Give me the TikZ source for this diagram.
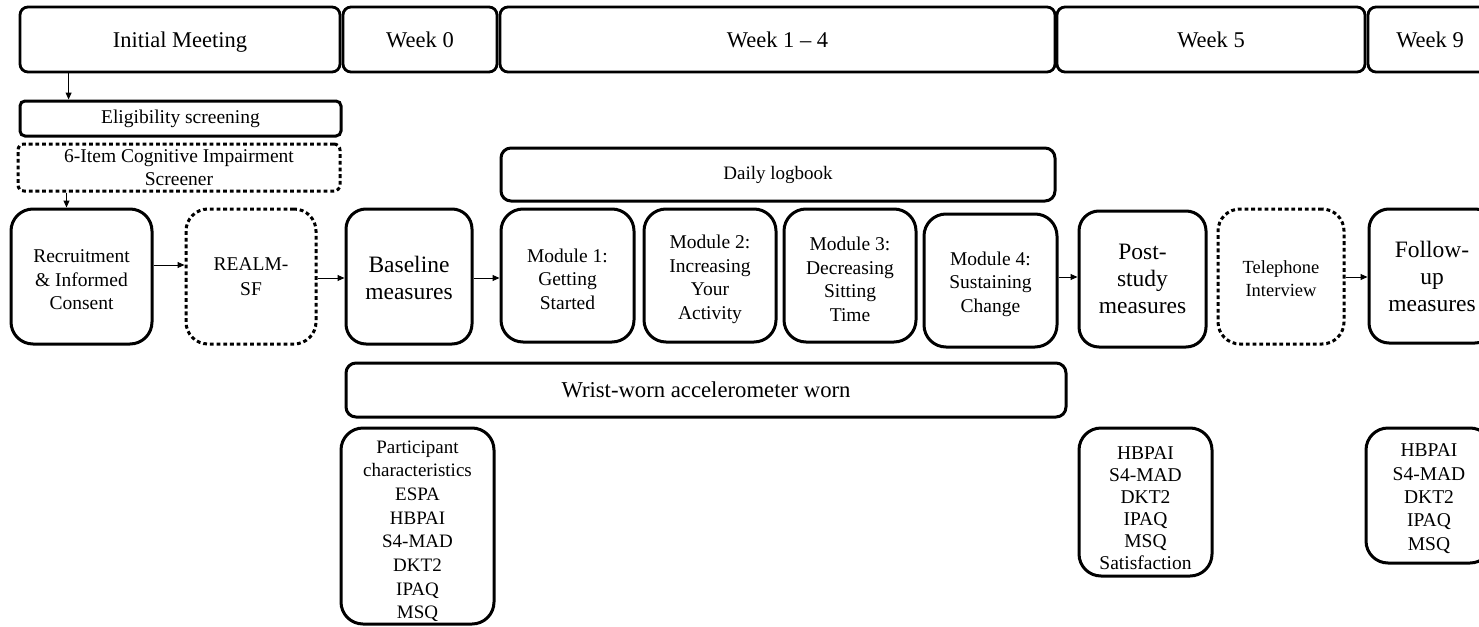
\documentclass[tikz,border=0pt]{standalone}
\usepackage{fontspec}
\setmainfont{Liberation Serif}
\usetikzlibrary{arrows.meta}
\newcommand{\tpush}[1]{\rule{0pt}{#1}}
\begin{document}
\begin{tikzpicture}[x=1pt,y=-1pt,
  hdr/.style={draw, line width=2.8pt, rounded corners=8pt, minimum height=65pt, inner sep=0pt,
    text height=20pt, text depth=4pt, font=\fontsize{22.5}{27}\selectfont},
  rbox/.style={draw, line width=3pt, rounded corners=20pt, align=center, inner sep=0pt,
    font=\fontsize{19.5}{23.5}\selectfont},
  dbox/.style={rbox, dash pattern=on 3.8pt off 2.9pt},
  bigtxt/.style={font=\fontsize{23.5}{27}\selectfont},
  arr/.style={-{Triangle[length=7pt,width=6pt]}, line width=1pt}
]
\useasboundingbox (0,0) rectangle (1479,626);
\clip (0,0) rectangle (1479,626);
\fill[white] (0,0) rectangle (1479,626);

% header row
\node[hdr, minimum width=320pt] (hIM) at (180,39.5) {Initial Meeting};
\node[hdr, minimum width=154pt] (hW0) at (420,39.5) {Week 0};
\node[hdr, minimum width=555pt] (hW14) at (777.5,39.5) {Week 1 -- 4};
\node[hdr, minimum width=308pt] (hW5) at (1211,39.5) {Week 5};
\node[hdr, minimum width=124pt] (hW9) at (1430,39.5) {Week 9};

% screening
\node[rbox, rounded corners=5pt, minimum width=321pt, minimum height=35pt] (elig) at (180.5,118.5) {Eligibility screening};
\node[dbox, rounded corners=6pt, minimum width=322pt, minimum height=47pt] (cog) at (179,167.5) {6-Item Cognitive Impairment\\Screener};

% main row
\node[rbox, rounded corners=22pt, minimum width=141pt, minimum height=135pt] (rec) at (81.5,276.5) {\tpush{19.5pt}Recruitment\\\& Informed\\Consent};
\node[dbox, rounded corners=22pt, minimum width=130pt, minimum height=135pt, font=\fontsize{19.5}{25}\selectfont] (realm) at (251,276.5) {REALM-\\SF};
\node[rbox, bigtxt, rounded corners=20pt, minimum width=126pt, minimum height=135pt] (base) at (409,276.5) {\tpush{19pt}Baseline\\measures};

\node[rbox, rounded corners=10pt, minimum width=554pt, minimum height=53pt, font=\fontsize{19}{23}\selectfont] (daily) at (778,174.5) {Daily logbook};

\node[rbox, rounded corners=22pt, minimum width=133pt, minimum height=133pt] (m1) at (567.5,275.5) {\tpush{21pt}Module 1:\\Getting\\Started};
\node[rbox, rounded corners=22pt, minimum width=132pt, minimum height=133pt] (m2) at (710,275.5) {\tpush{21pt}Module 2:\\Increasing\\Your\\Activity};
\node[rbox, rounded corners=22pt, minimum width=132pt, minimum height=133pt] (m3) at (850,275.5) {\tpush{21pt}Module 3:\\Decreasing\\Sitting\\Time};
\node[rbox, rounded corners=22pt, minimum width=133pt, minimum height=133pt] (m4) at (990.5,280.5) {\tpush{21pt}Module 4:\\Sustaining\\Change};

\node[rbox, bigtxt, rounded corners=20pt, minimum width=127pt, minimum height=136pt] (post) at (1142.5,279) {Post-\\study\\measures};
\node[dbox, rounded corners=22pt, minimum width=126pt, minimum height=135pt, font=\fontsize{18.5}{23}\selectfont] (tel) at (1281,276.5) {\tpush{17pt}Telephone\\Interview};
\node[rbox, bigtxt, rounded corners=20pt, minimum width=126pt, minimum height=134pt] (follow) at (1432,276) {Follow-\\up\\measures};

% accelerometer
\node[rbox, rounded corners=10pt, minimum width=720pt, minimum height=54pt, font=\fontsize{22.7}{27}\selectfont] (wrist) at (706,390) {Wrist-worn accelerometer worn};

% measure lists
\node[rbox, rounded corners=22pt, minimum width=153pt, minimum height=196pt, font=\fontsize{19}{23.7}\selectfont] (part) at (417.5,526) {\tpush{23pt}Participant\\characteristics\\ESPA\\HBPAI\\S4-MAD\\DKT2\\IPAQ\\MSQ};
\node[rbox, rounded corners=22pt, minimum width=133pt, minimum height=148pt, font=\fontsize{19.5}{22}\selectfont] (postlist) at (1145.5,502) {\tpush{25pt}HBPAI\\S4-MAD\\DKT2\\IPAQ\\MSQ\\Satisfaction};
\node[rbox, rounded corners=22pt, minimum width=126pt, minimum height=135pt, font=\fontsize{19.5}{23.3}\selectfont] (follist) at (1429,495.5) {\tpush{19pt}HBPAI\\S4-MAD\\DKT2\\IPAQ\\MSQ};

% arrows
\draw[arr] ([xshift=50pt]hIM.south west) -- ([xshift=50pt]hIM.south west |- elig.north);
\draw[arr] ([xshift=50pt]cog.south west) -- ([xshift=50pt]cog.south west |- rec.north);
\draw[arr] ([yshift=11.5pt]rec.east) -- ([yshift=11.5pt]rec.east -| realm.west);
\draw[arr] ([yshift=-1.5pt]realm.east) -- ([yshift=-1.5pt]realm.east -| base.west);
\draw[arr] ([yshift=-1.5pt]base.east) -- ([yshift=-1.5pt]base.east -| m1.west);
\draw[arr] ([yshift=3.5pt]m4.east) -- ([yshift=3.5pt]m4.east -| post.west);
\draw[arr] ([yshift=-0.5pt]tel.east) -- ([yshift=-0.5pt]tel.east -| follow.west);
\end{tikzpicture}
\end{document}
